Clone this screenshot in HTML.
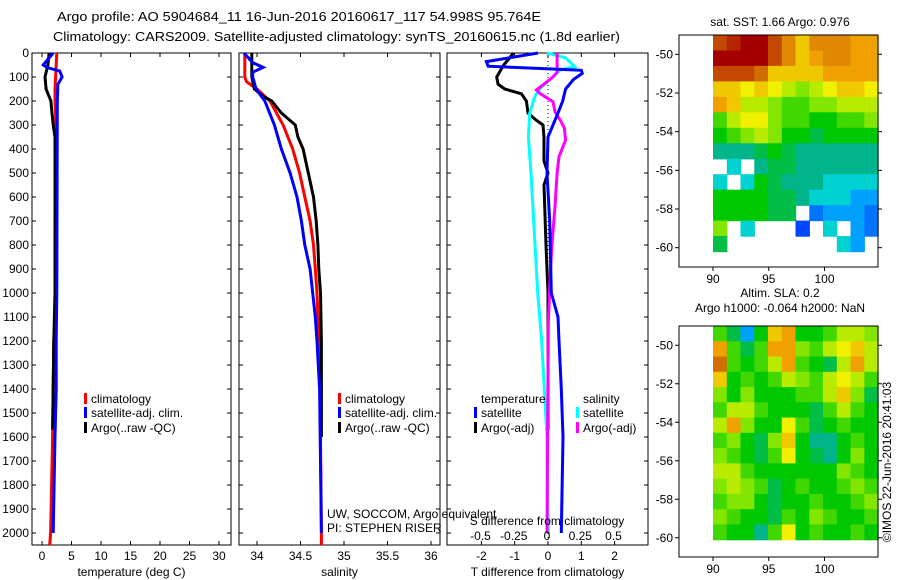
<!DOCTYPE html>
<html><head><meta charset="utf-8"><style>
body{margin:0;background:#fff;}
svg{display:block;font-family:"Liberation Sans",sans-serif;}
</style></head><body>
<svg id="fig" width="900" height="580" viewBox="0 0 900 580" xmlns="http://www.w3.org/2000/svg">
<text x="57" y="21" font-size="13" textLength="484" lengthAdjust="spacingAndGlyphs">Argo profile: AO 5904684_11 16-Jun-2016 20160617_117 54.998S 95.764E</text>
<text x="53" y="41" font-size="13" textLength="567" lengthAdjust="spacingAndGlyphs">Climatology: CARS2009. Satellite-adjusted climatology: synTS_20160615.nc (1.8d earlier)</text>
<g id="panels"></g>
<g id="maps"></g>
<text transform="translate(891,462) rotate(-90)" font-size="12" text-anchor="middle">©IMOS 22-Jun-2016 20:41:03</text>
</svg>
<script>
// ---- profile data ----
const tDepths = [0,50,100,150,200,250,300,350,400,1000,1200,1600,2000,2050];
const tClim   = [2.5,2.4,2.3,2.2,2.2,2.3,2.3,2.3,2.4,2.4,2.0,1.8,1.45,1.3];
const tSatDepths = [0,50,60,75,100,130,200,1000,1200,1400,1600,2000];
const tSat    = [1.9,0.2,0.8,3.0,3.4,2.7,2.6,2.5,2.4,2.4,2.2,1.9];
const tArgoDepths = [0,50,100,150,200,250,300,350,400,1000,1200,1570];
const tArgo   = [1.2,1.0,0.5,0.7,1.5,1.7,1.9,2.2,2.2,2.2,2.0,1.8];
const sDepths = [0,100,120,150,200,300,400,500,600,700,800,900,1000,1100,1200,2000,2050];
const sClim   = [33.86,33.86,33.88,34.0,34.15,34.30,34.41,34.49,34.55,34.61,34.65,34.67,34.69,34.70,34.72,34.74,34.74];
const sSatDepths = [0,40,60,80,100,150,200,300,400,500,600,700,800,900,1000,1100,1200,1400,2000];
const sSat    = [33.85,33.95,34.07,33.95,33.95,33.99,34.09,34.20,34.28,34.38,34.46,34.51,34.55,34.61,34.64,34.67,34.69,34.72,34.74];
const sArgoDepths = [0,100,150,180,200,250,300,350,400,500,600,700,800,900,1000,1200,1600];
const sArgo   = [33.94,33.94,33.97,34.07,34.17,34.28,34.44,34.47,34.53,34.59,34.65,34.68,34.70,34.71,34.73,34.74,34.74];
const dtSatDepths = [0,36,55,68,72,85,110,150,200,250,300,350,500,700,1000,1100,1200,1400,1600,2000];
const dtSat   = [-0.3,-1.85,-1.8,0.3,1.0,1.03,0.77,0.53,0.44,0.3,0.15,0,-0.03,0.05,0.1,0.3,0.33,0.4,0.45,0.4];
const dtArgoDepths = [0,20,50,100,130,150,170,200,250,280,300,350,450,500,550,800,1000,1570];
const dtArgo  = [-1.04,-1.15,-1.33,-1.54,-1.5,-1.3,-0.8,-0.65,-0.6,-0.35,-0.15,-0.12,-0.12,0,-0.12,-0.06,0,0];
const dsSatDepths = [0,20,58,70,100,146,180,250,350,500,700,1000,1200,1400,1600,2000];
const dsSat   = [0.0,0.14,0.21,0.1,0.045,-0.05,-0.09,-0.13,-0.14,-0.12,-0.1,-0.07,-0.04,-0.02,0,0.01];
const dsArgoDepths = [0,80,100,154,170,203,245,280,313,362,432,500,640,780,918,1125,2000];
const dsArgo  = [0.076,0.076,0.045,-0.08,-0.05,0.045,0.06,0.1,0.13,0.14,0.09,0.076,0.06,0.04,0.025,0.01,0.0];
const depthTicks = [0,100,200,300,400,500,600,700,800,900,1000,1100,1200,1300,1400,1500,1600,1700,1800,1900,2000];
const tTicks = [0,5,10,15,20,25,30];
const sTicks = [34,34.5,35,35.5,36];
const sTickLabels = ['34','34.5','35','35.5','36'];
const dtTicks = [-2,-1,0,1,2];
const dsTicks = [-0.5,-0.25,0,0.25,0.5];
const dsTickLabels = ['-0.5','-0.25','0','0.25','0.5'];
// ---- map data (12 lon cols x 14 lat rows, value on colour scale 0..10, null = no data) ----
const sstRow0 = [9,9.5,10,10,9,8,7,8,8,8,7.5,7.5];
const sstRow1 = [10,10,10,10,9,8,7,7.5,8,8,7.5,7.5];
const sstRow2 = [9,9,9,8.5,7,7,7,7,7.5,7.5,7.5,7.5];
const sstRow3 = [7,7,6.5,7,6.5,6,5.5,6,6.5,7,7,6.5];
const sstRow4 = [7.5,7,6,6,5.5,5,5,5.5,5.5,6,6,6];
const sstRow5 = [5,6,6.5,6.5,5.5,5,5,4.5,4.5,5,5,5.5];
const sstRow6 = [4.5,5,5.5,6,5.5,4.5,4.5,4,4.5,4.5,4.5,4.5];
const sstRow7 = [3.5,3.5,3.5,4,4.5,4,3.5,3.5,3.5,3.5,3.5,3.5];
const sstRow8 = [null,3,null,3.5,4,4,3.5,3.5,3.5,3.5,3.5,3.5];
const sstRow9 = [3,null,3,4.5,4,3.5,3.5,3.5,3,3,3,3];
const sstRow10 = [4.5,4.5,4.5,4.5,4,4,3.5,3,3,3,2.5,2.5];
const sstRow11 = [4.5,4.5,4.5,4.5,4,4,null,2,2.5,2.5,2.5,2];
const sstRow12 = [5.5,null,3,null,null,null,1.5,null,3,null,2.5,2];
const sstRow13 = [4,null,null,null,null,null,null,null,null,3,2.5,null];
const sstGrid = [sstRow0,sstRow1,sstRow2,sstRow3,sstRow4,sstRow5,sstRow6,sstRow7,sstRow8,sstRow9,sstRow10,sstRow11,sstRow12,sstRow13];
const slaRow0 = [5,4,2.5,4.5,7,7.5,4.5,4.5,5,6,6,5.5];
const slaRow1 = [7.5,5,4,5,7.5,7.5,5.5,5,6,6.5,7,6];
const slaRow2 = [8.5,5,4.5,5,6,7.5,5,4.5,4,6,7.5,6];
const slaRow3 = [7,4.5,5,4.5,5,6,5.5,5,6,6.5,6,5];
const slaRow4 = [5.5,4.5,5.5,4.5,4.5,4.5,5,5,6,7,5.5,4];
const slaRow5 = [5,6,6,5,4.5,4.5,4.5,4,5,6,5,4.5];
const slaRow6 = [6,7.5,5.5,4.5,4.5,6.5,5,4,4.5,5,4.5,4.5];
const slaRow7 = [5,5.5,4.5,4,5.5,7,4.5,3.5,3.5,4.5,5,4.5];
const slaRow8 = [5.5,5,4.5,4,5,6.5,4.5,4,3.5,4.5,5.5,4.5];
const slaRow9 = [6,6,5,4.5,4.5,4.5,4.5,4.5,4.5,5.5,5,4.5];
const slaRow10 = [5.5,6,5.5,5,4,4.5,5,4.5,4.5,5,5.5,5];
const slaRow11 = [5,5.5,5.5,4.5,4,4.5,4.5,5,4.5,4.5,5,5.5];
const slaRow12 = [5.5,5,4.5,4.5,4,5,4.5,5.5,5,4.5,4.5,5];
const slaRow13 = [5,4.5,4.5,3.5,5,6.5,4.5,5,4.5,4.5,5,4.5];
const slaGrid = [slaRow0,slaRow1,slaRow2,slaRow3,slaRow4,slaRow5,slaRow6,slaRow7,slaRow8,slaRow9,slaRow10,slaRow11,slaRow12,slaRow13];
const lonTicks = [90,95,100];
const latTicks = [-50,-52,-54,-56,-58,-60];

const NS='http://www.w3.org/2000/svg';
function mk(tag, attrs, parent){const e=document.createElementNS(NS,tag);for(const k in attrs)e.setAttribute(k,attrs[k]);parent.appendChild(e);return e;}
const panels=document.getElementById('panels');
const maps=document.getElementById('maps');
const TOP=53, BOT=545;
const yD = d => TOP + d*0.24;

function makePanel(name,x0,x1,sc,ticks,labels,title){
  const g=mk('g',{},panels);
  
  
  const r=mk('rect',{x:x0,y:TOP,width:x1-x0,height:BOT-TOP,fill:'none',stroke:'#000','stroke-width':1},g);
  
  
  ticks.forEach((v,i)=>{
    const x=sc(v);
    mk('line',{x1:x,x2:x,y1:TOP,y2:TOP+4,stroke:'#000'},g);
    mk('line',{x1:x,x2:x,y1:BOT,y2:BOT-4,stroke:'#000'},g);
    const t=mk('text',{x:x,y:560,'font-size':12,'text-anchor':'middle'},g);
    t.textContent=labels[i];
    
    
  });
  depthTicks.forEach(d=>{
    mk('line',{x1:x0,x2:x0+4,y1:yD(d),y2:yD(d),stroke:'#000'},g);
    mk('line',{x1:x1,x2:x1-4,y1:yD(d),y2:yD(d),stroke:'#000'},g);
  });
  const tt=mk('text',{x:(x0+x1)/2,y:576,'font-size':12,'text-anchor':'middle'},g);
  tt.textContent=title;
  
  
  return g;
}
function series(g,depths,vals,sc,color,name){
  const pts=depths.map((d,i)=>sc(vals[i]).toFixed(1)+','+yD(d).toFixed(1)).join(' ');
  const p=mk('polyline',{points:pts,fill:'none',stroke:color,'stroke-width':3,'stroke-linejoin':'miter'},g);
  
  
}
function legend(g,x,y,color,label){
  if(color){const b=mk('rect',{x:x-7,y:y-10,width:3,height:11,fill:color},g);
    
    }
  const t=mk('text',{x:x,y:y,'font-size':12},g);
  t.textContent=label;
  
  
}

// Panel 1 temperature
const xT = v => 42 + 5.9*v;
const p1=makePanel('temperature-panel',32,231,xT,tTicks,tTicks.map(String),'temperature (deg C)');
depthTicks.forEach(d=>{const t=mk('text',{x:29,y:yD(d)+4,'font-size':12,'text-anchor':'end'},p1);
  t.textContent=String(d);
  
  });
series(p1,tDepths,tClim,xT,'#f00','temp-climatology-line');
series(p1,tArgoDepths,tArgo,xT,'#000','temp-argo-line');
series(p1,tSatDepths,tSat,xT,'#00f','temp-satellite-line');
legend(p1,91,403,'#f00','climatology');
legend(p1,91,417,'#00f','satellite-adj. clim.');
legend(p1,91,432,'#000','Argo(..raw -QC)');

// Panel 2 salinity
const xS = v => 257 + 87*(v-34);
const p2=makePanel('salinity-panel',239,440,xS,sTicks,sTickLabels,'salinity');
series(p2,sDepths,sClim,xS,'#f00','sal-climatology-line');
series(p2,sArgoDepths,sArgo,xS,'#000','sal-argo-line');
series(p2,sSatDepths,sSat,xS,'#00f','sal-satellite-line');
legend(p2,345,403,'#f00','climatology');
legend(p2,345,417,'#00f','satellite-adj. clim.');
legend(p2,345,432,'#000','Argo(..raw -QC)');
{const t=mk('text',{x:327,y:518,'font-size':12},p2);t.textContent='UW, SOCCOM, Argo equivalent';
 
 
 const t2=mk('text',{x:327,y:532,'font-size':12},p2);t2.textContent='PI: STEPHEN RISER';
 
 }

// Panel 3 differences
const xDT = v => 548 + 33.3*v;
const xDS = v => 547 + 133*v;
const p3=makePanel('difference-panel',447,648,xDT,dtTicks,dtTicks.map(String),'T difference from climatology');
{const z=mk('line',{x1:548,x2:548,y1:TOP,y2:BOT,stroke:'#000','stroke-dasharray':'1,3'},p3);
 
 }
series(p3,dtArgoDepths,dtArgo,xDT,'#000','dt-argo-line');
series(p3,dsSatDepths,dsSat,xDS,'#0ff','ds-satellite-line');
series(p3,dsArgoDepths,dsArgo,xDS,'#f0f','ds-argo-line');
series(p3,dtSatDepths,dtSat,xDT,'#00f','dt-satellite-line');
dsTicks.forEach((v,i)=>{const t=mk('text',{x:xDS(v),y:540,'font-size':12,'text-anchor':'middle'},p3);
  t.textContent=dsTickLabels[i];
  
  });
{const t=mk('text',{x:547,y:525,'font-size':12,'text-anchor':'middle'},p3);t.textContent='S difference from climatology';
 
 }
legend(p3,481,403,null,'temperature');
legend(p3,481,417,'#00f','satellite');
legend(p3,481,432,'#000','Argo(-adj)');
legend(p3,583,403,null,'salinity');
legend(p3,583,417,'#0ff','satellite');
legend(p3,583,432,'#f0f','Argo(-adj)');

// colour scale
const cStops=[[0,[0,0,140]],[1.5,[0,70,255]],[2.5,[0,160,255]],[3,[0,210,210]],[3.5,[0,180,140]],[4.5,[0,200,0]],[5.5,[130,230,0]],[6.5,[240,240,0]],[7.5,[240,160,0]],[8.5,[210,110,0]],[10,[165,0,0]]];
function col(v){for(let i=1;i<cStops.length;i++){if(v<=cStops[i][0]){const a=cStops[i-1],b=cStops[i];const f=(v-a[0])/(b[0]-a[0]);
  return 'rgb('+a[1].map((c,k)=>Math.round(c+f*(b[1][k]-c))).join(',')+')';}}return 'rgb(165,0,0)';}

function makeMap(name,y0,y1,latTop,latBot,grid,titles){
  const g=mk('g',{},maps);
  
  
  const x0=679,x1=878;
  const lonX = lon => 713 + (lon-90)*11.15;
  const latY = lat => (y0) + (latTop-lat)*(y1-y0)/(latTop-latBot);
  const nR=grid.length,nC=grid[0].length;
  const lonW=(104.8-90)/nC, latH=(-49 - (name==='sst-map'?-60.2:-60.1))/nR;
  grid.forEach((row,r)=>row.forEach((v,c)=>{
    if(v===null)return;
    const cx=lonX(90+c*lonW), cy=latY(-49-r*latH);
    const cell=mk('rect',{x:cx.toFixed(1),y:cy.toFixed(1),width:(lonW*11.15+0.6).toFixed(1),height:(latY(-49-(r+1)*latH)-cy+0.6).toFixed(1),fill:col(v)},g);
    
    
  }));
  const box=mk('rect',{x:x0,y:y0,width:x1-x0,height:y1-y0,fill:'none',stroke:'#000'},g);
  
  
  lonTicks.forEach(l=>{const x=lonX(l);mk('line',{x1:x,x2:x,y1:y1,y2:y1+4,stroke:'#000'},g);
    const t=mk('text',{x:x,y:y1+16,'font-size':12,'text-anchor':'middle'},g);t.textContent=String(l);
    
    });
  latTicks.forEach(l=>{const y=latY(l);mk('line',{x1:x0-4,x2:x0,y1:y,y2:y,stroke:'#000'},g);
    mk('line',{x1:x1,x2:x1+4,y1:y,y2:y,stroke:'#000'},g);
    const t=mk('text',{x:x0-6,y:y+4,'font-size':12,'text-anchor':'end'},g);t.textContent=String(l);
    
    });
  titles.forEach((s,i)=>{const t=mk('text',{x:780,y:titles.length===1?26:(y0-29+i*15),'font-size':12,'text-anchor':'middle'},g);t.textContent=s;
    
    });
}
makeMap('sst-map',35,267,-49,-61,sstGrid,['sat. SST: 1.66 Argo: 0.976']);
makeMap('sla-map',326,557,-49,-61,slaGrid,['Altim. SLA: 0.2','Argo h1000: -0.064 h2000: NaN']);
</script>
</body></html>
